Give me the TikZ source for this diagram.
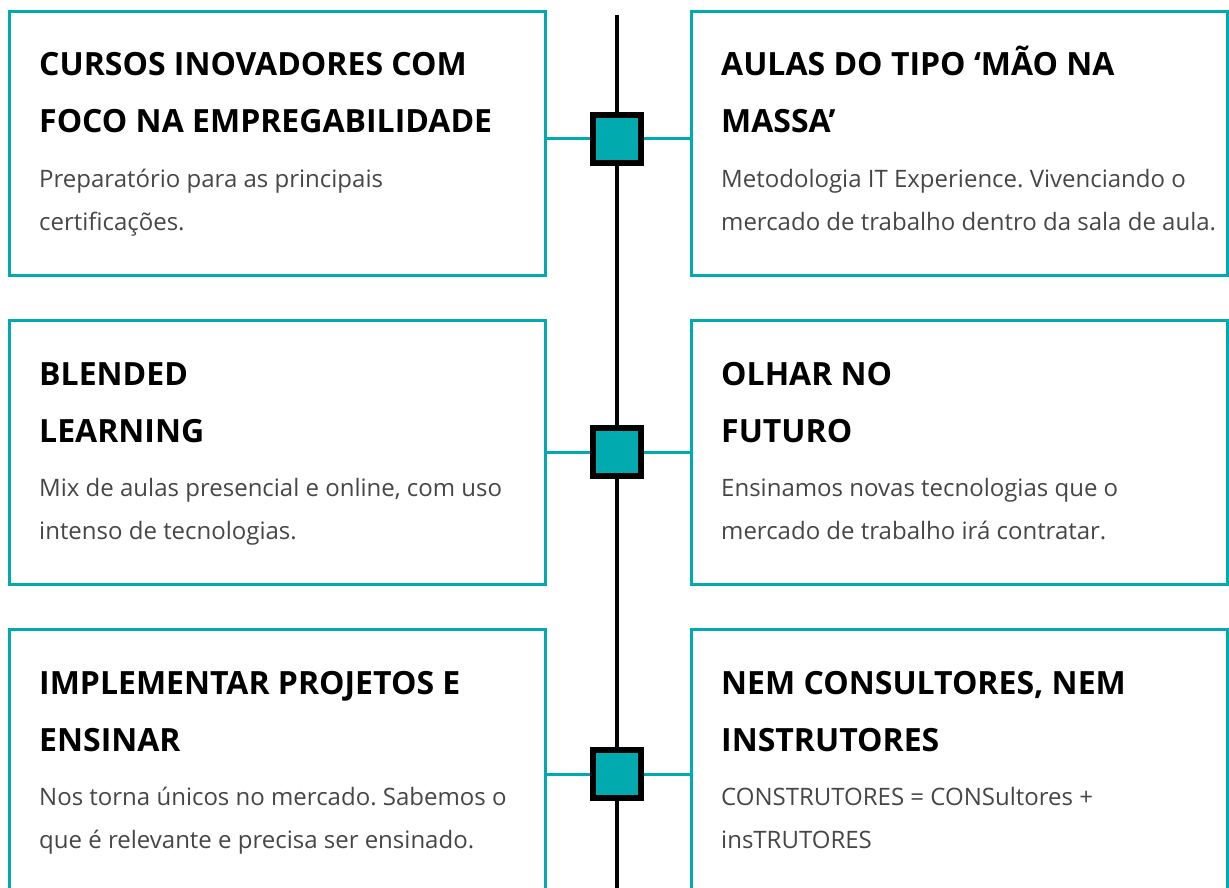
\documentclass[tikz,border=0pt]{standalone}
\usepackage{fontspec}
\setmainfont{Open Sans}
\frenchspacing
\definecolor{turquesa}{RGB}{0,170,174}
\definecolor{cinza}{RGB}{70,70,70}

\begin{document}
\begin{tikzpicture}[x=1pt,y=-1pt,
    caixa/.style={draw=turquesa,line width=3pt,anchor=north west,minimum width=536pt,minimum height=264pt,inner sep=0pt},
    titulo/.style={anchor=base west,inner sep=0pt,font=\fontsize{32}{38}\selectfont\bfseries,text=black},
    corpo/.style={anchor=base west,inner sep=0pt,font=\fontsize{24}{29}\selectfont,text=cinza},
    marco/.style={draw=black,fill=turquesa,line width=6pt,minimum size=48pt,inner sep=0pt},
    ligacao/.style={draw=turquesa,line width=3pt}]
    \clip (0,0) rectangle (1229,888);
    % caixas com os textos
    \foreach \nome/\x/\y/\ta/\tb/\ca/\cb in {
        cursos/8/10/CURSOS INOVADORES COM/FOCO NA EMPREGABILIDADE/Preparatório para as principais/certificações.,
        aulas/690/10/AULAS DO TIPO ‘MÃO NA/MASSA’/Metodologia IT Experience. Vivenciando o/mercado de trabalho dentro da sala de aula.,
        blended/8/319/BLENDED/LEARNING/{Mix de aulas presencial e online, com uso}/intenso de tecnologias.,
        futuro/690/319/OLHAR NO/FUTURO/Ensinamos novas tecnologias que o/mercado de trabalho irá contratar.,
        projetos/8/628/IMPLEMENTAR PROJETOS E/ENSINAR/Nos torna únicos no mercado. Sabemos o/que é relevante e precisa ser ensinado.,
        construtores/690/628/{NEM CONSULTORES, NEM}/INSTRUTORES/CONSTRUTORES = CONSultores +/insTRUTORES}
    {
        \node[caixa] (\nome) at (\x,\y) {};
        \node[titulo] (\nome-a) at ([xshift=31pt,yshift=-66pt]\nome.north west) {\ta};
        \node[titulo] (\nome-b) at ([xshift=31pt,yshift=-123pt]\nome.north west) {\tb};
        \node[corpo] (\nome-c) at ([xshift=31pt,yshift=-177pt]\nome.north west) {\ca};
        \node[corpo] (\nome-d) at ([xshift=31pt,yshift=-220pt]\nome.north west) {\cb};
    }
    % linha do tempo
    \coordinate (topo) at (617,15);
    \coordinate (fim) at (617,888);
    \draw[line width=4.5pt] (topo) -- (fim);
    \node[marco] (m1) at (617,139) {};
    \node[marco] (m2) at (617,452) {};
    \node[marco] (m3) at (617,774) {};
    \draw[ligacao] (cursos.east |- m1) -- (m1.west);
    \draw[ligacao] (m1.east) -- (aulas.west |- m1);
    \draw[ligacao] (blended.east |- m2) -- (m2.west);
    \draw[ligacao] (m2.east) -- (futuro.west |- m2);
    \draw[ligacao] (projetos.east |- m3) -- (m3.west);
    \draw[ligacao] (m3.east) -- (construtores.west |- m3);
\end{tikzpicture}
\end{document}
